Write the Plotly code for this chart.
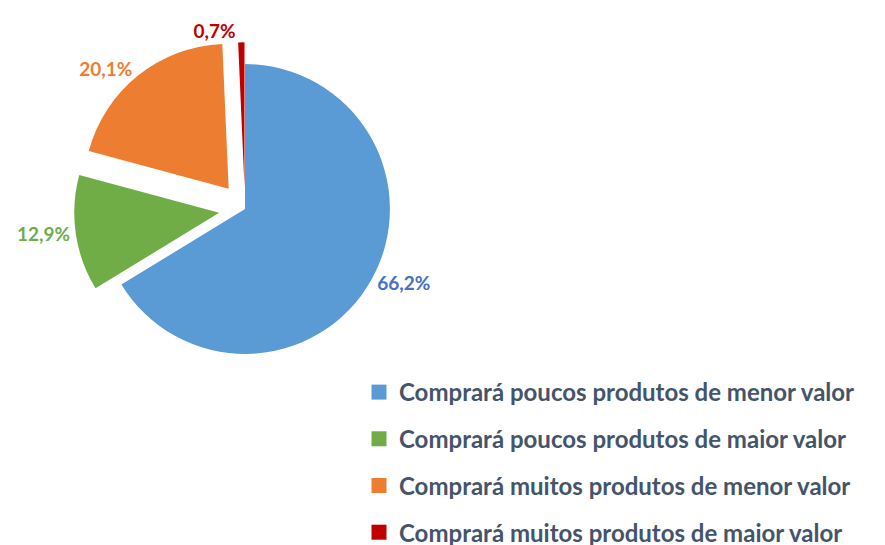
import plotly.graph_objects as go

labels = ["Comprará poucos produtos de menor valor",
          "Comprará poucos produtos de maior valor",
          "Comprará muitos produtos de menor valor",
          "Comprará muitos produtos de maior valor"]
values = [66.2, 12.9, 20.1, 0.7]
text_labels = ["66,2%", "12,9%", "20,1%", "0,7%"]
slice_colors = ["#5B9BD5", "#70AD47", "#ED7D31", "#C00000"]
label_colors = ["#4472C4", "#70AD47", "#ED7D31", "#C00000"]
pulls = [0, 0.18, 0.18, 0.15]

W, H = 885, 545

fig = go.Figure()
fig.add_trace(go.Pie(
    labels=labels, values=values, text=text_labels,
    textinfo="text", textposition="outside",
    sort=False, direction="clockwise", rotation=0,
    pull=pulls,
    marker=dict(colors=slice_colors, line=dict(width=0)),
    outsidetextfont=dict(family="Lato", size=19, color=label_colors, weight="bold"),
    showlegend=False, hoverinfo="label+text",
    domain=dict(x=[66 / W, 408 / W], y=[1 - 372 / H, 1 - 30 / H]),
))

# legend entries (spaced like the original)
for i, (name, col) in enumerate(zip(labels, slice_colors)):
    fig.add_trace(go.Scatter(
        x=[None], y=[None], mode="markers", name=name,
        marker=dict(symbol="square", size=15, color=col),
        legendgroup=str(i), hoverinfo="skip",
    ))

fig.update_layout(
    width=W, height=H,
    margin=dict(l=0, r=0, t=0, b=0, autoexpand=False),
    paper_bgcolor="white", plot_bgcolor="white",
    xaxis=dict(visible=False), yaxis=dict(visible=False),
    legend=dict(
        x=351 / W, y=1 - 362 / H, xanchor="left", yanchor="top",
        font=dict(family="Lato", size=24, color="#44546A", weight="bold"),
        tracegroupgap=12.5, traceorder="grouped",
    ),
)

fig.write_html("out.html")
